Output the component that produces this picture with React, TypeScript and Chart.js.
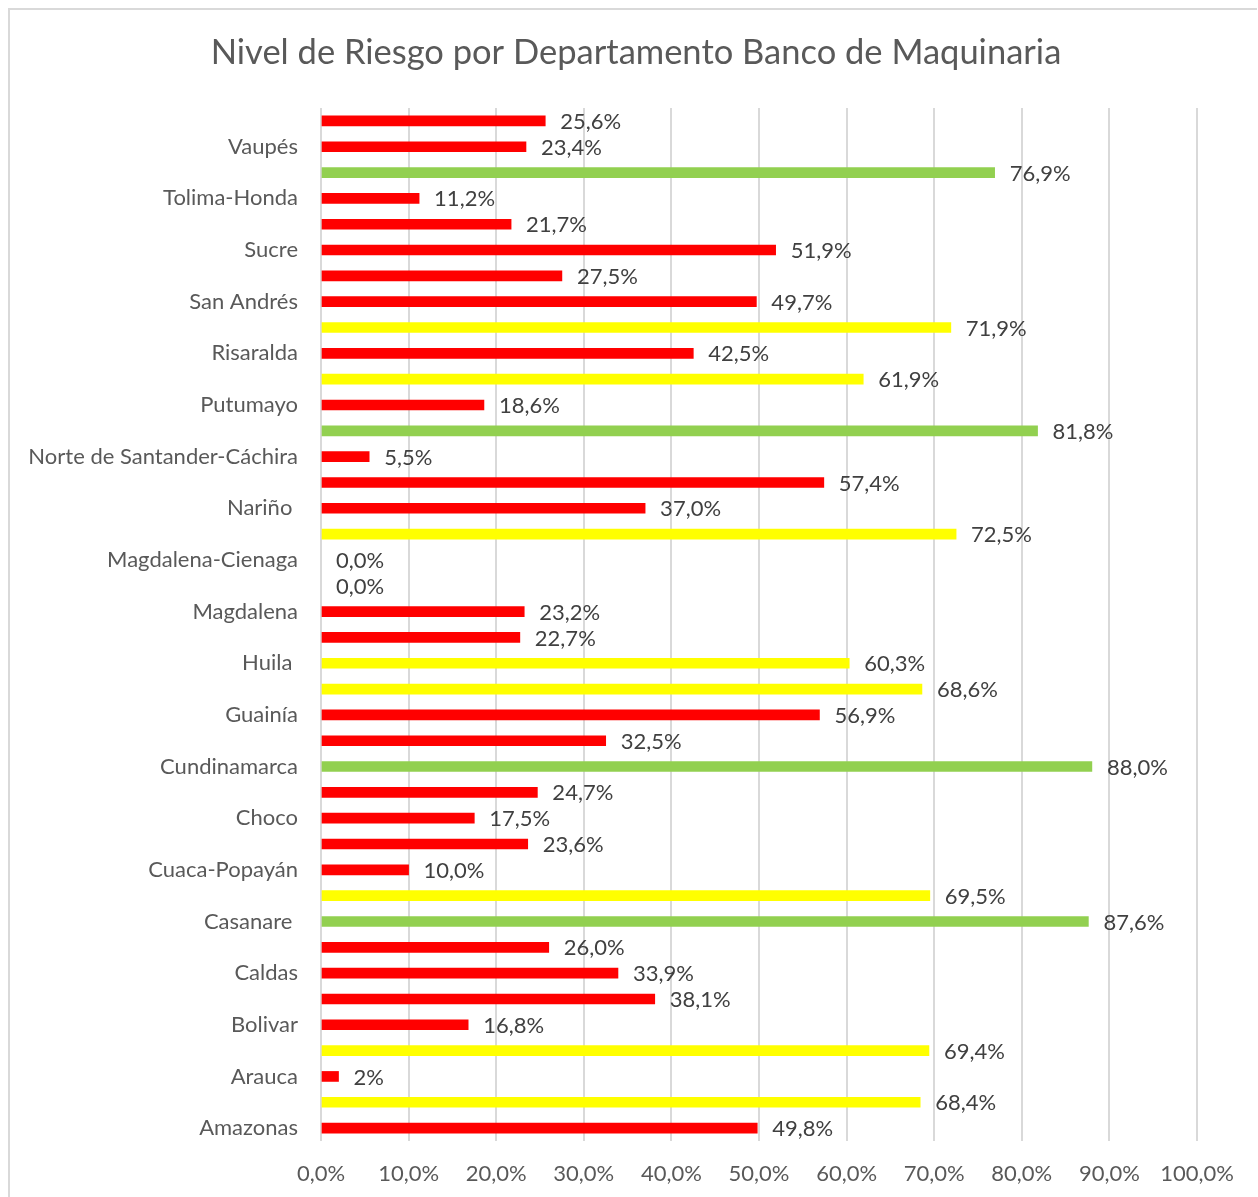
import React, { useEffect, useRef } from "react";
import { Chart, registerables } from "chart.js";

Chart.register(...registerables);

const chartTitle = "Nivel de Riesgo por Departamento Banco de Maquinaria";

// Categories top-to-bottom; only every other name is shown in the reference
const departments = [
  "", "Vaupés", "", "Tolima-Honda", "", "Sucre", "", "San Andrés", "", "Risaralda",
  "", "Putumayo", "", "Norte de Santander-Cáchira", "", "Nariño ", "", "Magdalena-Cienaga", "", "Magdalena",
  "", "Huila ", "", "Guainía", "", "Cundinamarca", "", "Choco", "", "Cuaca-Popayán",
  "", "Casanare ", "", "Caldas", "", "Bolivar", "", "Arauca", "", "Amazonas",
];

const riskValues = [
  25.6, 23.4, 76.9, 11.2, 21.7, 51.9, 27.5, 49.7, 71.9, 42.5,
  61.9, 18.6, 81.8, 5.5, 57.4, 37.0, 72.5, 0.0, 0.0, 23.2,
  22.7, 60.3, 68.6, 56.9, 32.5, 88.0, 24.7, 17.5, 23.6, 10.0,
  69.5, 87.6, 26.0, 33.9, 38.1, 16.8, 69.4, 2, 68.4, 49.8,
];

// A = alto (rojo), M = medio (amarillo), B = bajo (verde)
const riskLevels = [
  "A", "A", "B", "A", "A", "A", "A", "A", "M", "A",
  "M", "A", "B", "A", "A", "A", "M", "A", "A", "A",
  "A", "M", "M", "A", "A", "B", "A", "A", "A", "A",
  "M", "B", "A", "A", "A", "A", "M", "A", "M", "A",
];

// indices whose label is shown without decimals
const integerLabelIdx = [37];

const xTicks = [0, 10, 20, 30, 40, 50, 60, 70, 80, 90, 100];

const levelColors: Record<string, string> = { A: "#FF0000", M: "#FFFF00", B: "#92D050" };

const FONT = "Lato, 'Open Sans', sans-serif";

const fmt = (v: number, i: number) =>
  integerLabelIdx.includes(i) ? `${Math.round(v)}%` : `${v.toFixed(1).replace(".", ",")}%`;

export default function App() {
  const ref = useRef<HTMLCanvasElement | null>(null);

  useEffect(() => {
    if (!ref.current) return;
    const framePlugin = {
      id: "frame",
      beforeDraw(chart: any) {
        const ctx = chart.ctx;
        ctx.save();
        ctx.fillStyle = "#ffffff";
        ctx.fillRect(0, 0, chart.width, chart.height);
        ctx.strokeStyle = "#d9d9d9";
        ctx.lineWidth = 2;
        ctx.beginPath();
        ctx.moveTo(9, chart.height);
        ctx.lineTo(9, 9);
        ctx.lineTo(1257, 9);
        ctx.stroke();
        ctx.fillStyle = "#595959";
        ctx.font = `34.5px ${FONT}`;
        ctx.textAlign = "center";
        ctx.textBaseline = "middle";
        ctx.fillText(chartTitle, 636, 53);
        ctx.restore();
      },
    };
    const labelPlugin = {
      id: "dataLabels",
      afterDatasetsDraw(chart: any) {
        const ctx = chart.ctx;
        const meta = chart.getDatasetMeta(0);
        ctx.save();
        ctx.fillStyle = "#404040";
        ctx.font = `22px ${FONT}`;
        ctx.textAlign = "left";
        ctx.textBaseline = "middle";
        meta.data.forEach((el: any, i: number) => {
          ctx.fillText(fmt(riskValues[i], i), el.x + 15, el.y + 1);
        });
        ctx.restore();
      },
    };
    const chart = new Chart(ref.current, {
      type: "bar",
      data: {
        labels: departments,
        datasets: [
          {
            data: riskValues,
            backgroundColor: riskLevels.map((l, i) =>
              riskValues[i] === 0 ? "rgba(0,0,0,0)" : levelColors[l]
            ),
            barThickness: 10,
            borderWidth: 0,
          },
        ],
      },
      options: {
        indexAxis: "y",
        animation: false,
        responsive: false,
        maintainAspectRatio: false,
        layout: { padding: { top: 108, left: 10, right: 61, bottom: 11 } },
        plugins: {
          legend: { display: false },
          tooltip: { enabled: false },
          title: { display: false },
        },
        scales: {
          x: {
            min: 0,
            max: 100,
            afterFit(scale: any) {
              scale.height = 45;
            },
            afterBuildTicks(scale: any) {
              scale.ticks = xTicks.map((v) => ({ value: v }));
            },
            grid: { color: "#d9d9d9", lineWidth: 2, drawTicks: false },
            border: { display: false },
            ticks: {
              padding: 20,
              color: "#595959",
              font: { family: FONT, size: 22 },
              callback: (v: any) => `${Number(v).toFixed(1).replace(".", ",")}%`,
            },
          },
          y: {
            afterFit(scale: any) {
              scale.width = 311;
            },
            grid: { display: false, drawTicks: false },
            border: { display: false },
            ticks: {
              autoSkip: false,
              padding: 23,
              color: "#595959",
              font: { family: FONT, size: 22 },
            },
          },
        },
      },
      plugins: [framePlugin, labelPlugin],
    });
    return () => chart.destroy();
  }, []);

  return (
    <div style={{ position: "absolute", left: 0, top: 0, width: 1258, height: 1197 }}>
      <canvas ref={ref} width={1258} height={1197} style={{ width: 1258, height: 1197 }} />
    </div>
  );
}
